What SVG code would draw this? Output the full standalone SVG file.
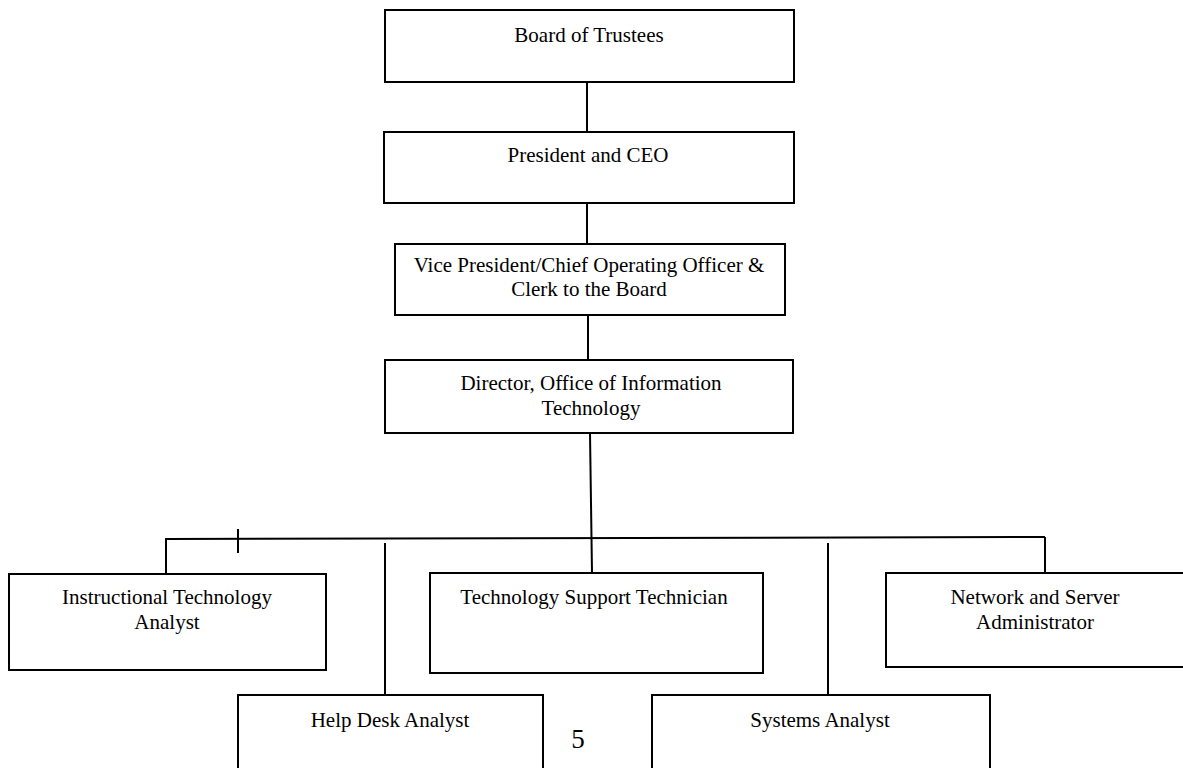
<svg xmlns="http://www.w3.org/2000/svg" width="1183" height="768" viewBox="0 0 1183 768">
<style>
.box{fill:#fff;stroke:#000;stroke-width:2}
.t{font-family:"Liberation Serif","Times New Roman",serif;font-size:21px;fill:#000;text-anchor:middle}
.c{stroke:#000;stroke-width:2;fill:none}
</style>
<rect width="1183" height="768" fill="#fff"/>
<g id="connectors">
<line class="c" x1="587" y1="82" x2="587" y2="132"/>
<line class="c" x1="587" y1="203" x2="587" y2="244"/>
<line class="c" x1="588" y1="315" x2="588" y2="360"/>
<line class="c" x1="590" y1="433" x2="592" y2="573"/>
<line class="c" x1="166" y1="539" x2="1045" y2="537"/>
<line class="c" x1="166" y1="538" x2="166" y2="574"/>
<line class="c" x1="238" y1="529" x2="238" y2="553"/>
<line class="c" x1="1045" y1="537" x2="1045" y2="573"/>
<line class="c" x1="385" y1="543" x2="385" y2="695"/>
<line class="c" x1="828" y1="543" x2="828" y2="695"/>
</g>
<g id="board">
<rect class="box" x="385" y="10" width="409" height="72"/>
<text class="t" x="589" y="42">Board of Trustees</text>
</g>
<g id="president">
<rect class="box" x="384" y="132" width="410" height="71"/>
<text class="t" x="588" y="162">President and CEO</text>
</g>
<g id="vp">
<rect class="box" x="395" y="244" width="390" height="71"/>
<text class="t" x="589" y="272">Vice President/Chief Operating Officer &amp;</text>
<text class="t" x="589" y="296">Clerk to the Board</text>
</g>
<g id="director">
<rect class="box" x="385" y="360" width="408" height="73"/>
<text class="t" x="591" y="390">Director, Office of Information</text>
<text class="t" x="591" y="415">Technology</text>
</g>
<g id="instructional">
<rect class="box" x="9" y="574" width="317" height="96"/>
<text class="t" x="167" y="604">Instructional Technology</text>
<text class="t" x="167" y="629">Analyst</text>
</g>
<g id="techsupport">
<rect class="box" x="430" y="573" width="333" height="100"/>
<text class="t" x="594" y="604">Technology Support Technician</text>
</g>
<g id="network">
<rect class="box" x="886" y="573" width="300" height="94"/>
<text class="t" x="1035" y="604">Network and Server</text>
<text class="t" x="1035" y="629">Administrator</text>
</g>
<g id="helpdesk">
<rect class="box" x="238" y="695" width="305" height="90"/>
<text class="t" x="390" y="727">Help Desk Analyst</text>
</g>
<g id="systems">
<rect class="box" x="652" y="695" width="338" height="90"/>
<text class="t" x="820" y="727">Systems Analyst</text>
</g>
<text x="578" y="748" style="font-family:'Liberation Serif','Times New Roman',serif;font-size:27px;fill:#000;text-anchor:middle">5</text>
</svg>
